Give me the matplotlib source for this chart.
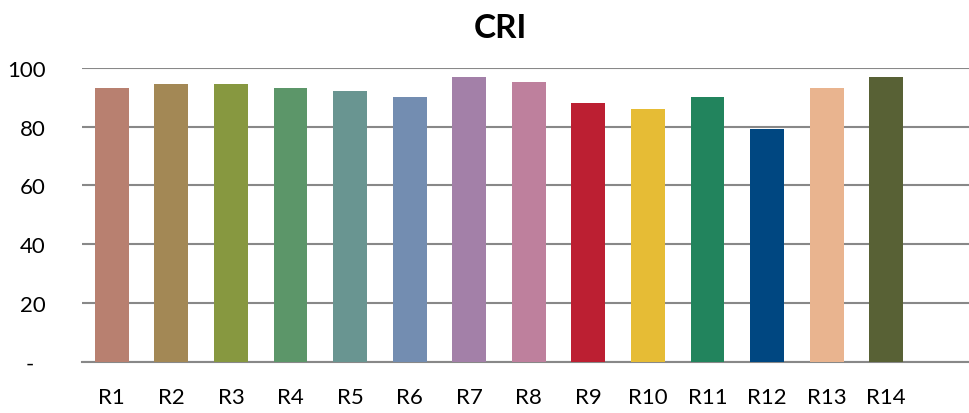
import matplotlib
matplotlib.use("Agg")
import matplotlib.pyplot as plt

plt.rcParams['font.family'] = ['Lato', 'DejaVu Sans']

# Data
labels = ["R1", "R2", "R3", "R4", "R5", "R6", "R7",
          "R8", "R9", "R10", "R11", "R12", "R13", "R14"]
values = [93.3, 94.4, 94.4, 93.3, 92.2, 90.2, 97.0,
          95.3, 88.1, 86.1, 90.2, 79.3, 93.3, 97.0]
colors = ["#B88070", "#A38855", "#879840", "#5C9669", "#699591", "#738DB1", "#A380A8",
          "#BE809D", "#BC1F32", "#E6BC35", "#22845D", "#004781", "#E9B48F", "#586135"]
yticks = [0, 20, 40, 60, 80, 100]
ytick_labels = ["-  ", "20", "40", "60", "80", "100"]

fig = plt.figure(figsize=(9.69, 4.14), dpi=100)
ax = fig.add_axes([82 / 969, 1 - 362.7 / 414, 1 - 82 / 969, (362.7 - 69) / 414])

x = range(len(labels))
ax.bar(x, values, width=0.57, color=colors, zorder=3)

ax.set_ylim(0, 100)
ax.set_xlim(-0.5, 14.39)
ax.set_yticks(yticks)
ax.set_yticklabels(ytick_labels, fontsize=16)
ax.set_xticks(list(x))
ax.set_xticklabels(labels, fontsize=16)
ax.tick_params(axis='both', length=0)
ax.tick_params(axis='x', pad=18)
ax.tick_params(axis='y', pad=26)

ax.grid(axis='y', color='#888888', linewidth=1.5, zorder=0)
for s in ['top', 'right', 'left']:
    ax.spines[s].set_visible(False)
ax.spines['bottom'].set_color('#888888')
ax.spines['bottom'].set_linewidth(1.5)

fig.text(500 / 969, 1 - 28 / 414, "CRI", fontsize=24, fontweight='bold',
         ha='center', va='center')

plt.savefig("out.png", dpi=100)
